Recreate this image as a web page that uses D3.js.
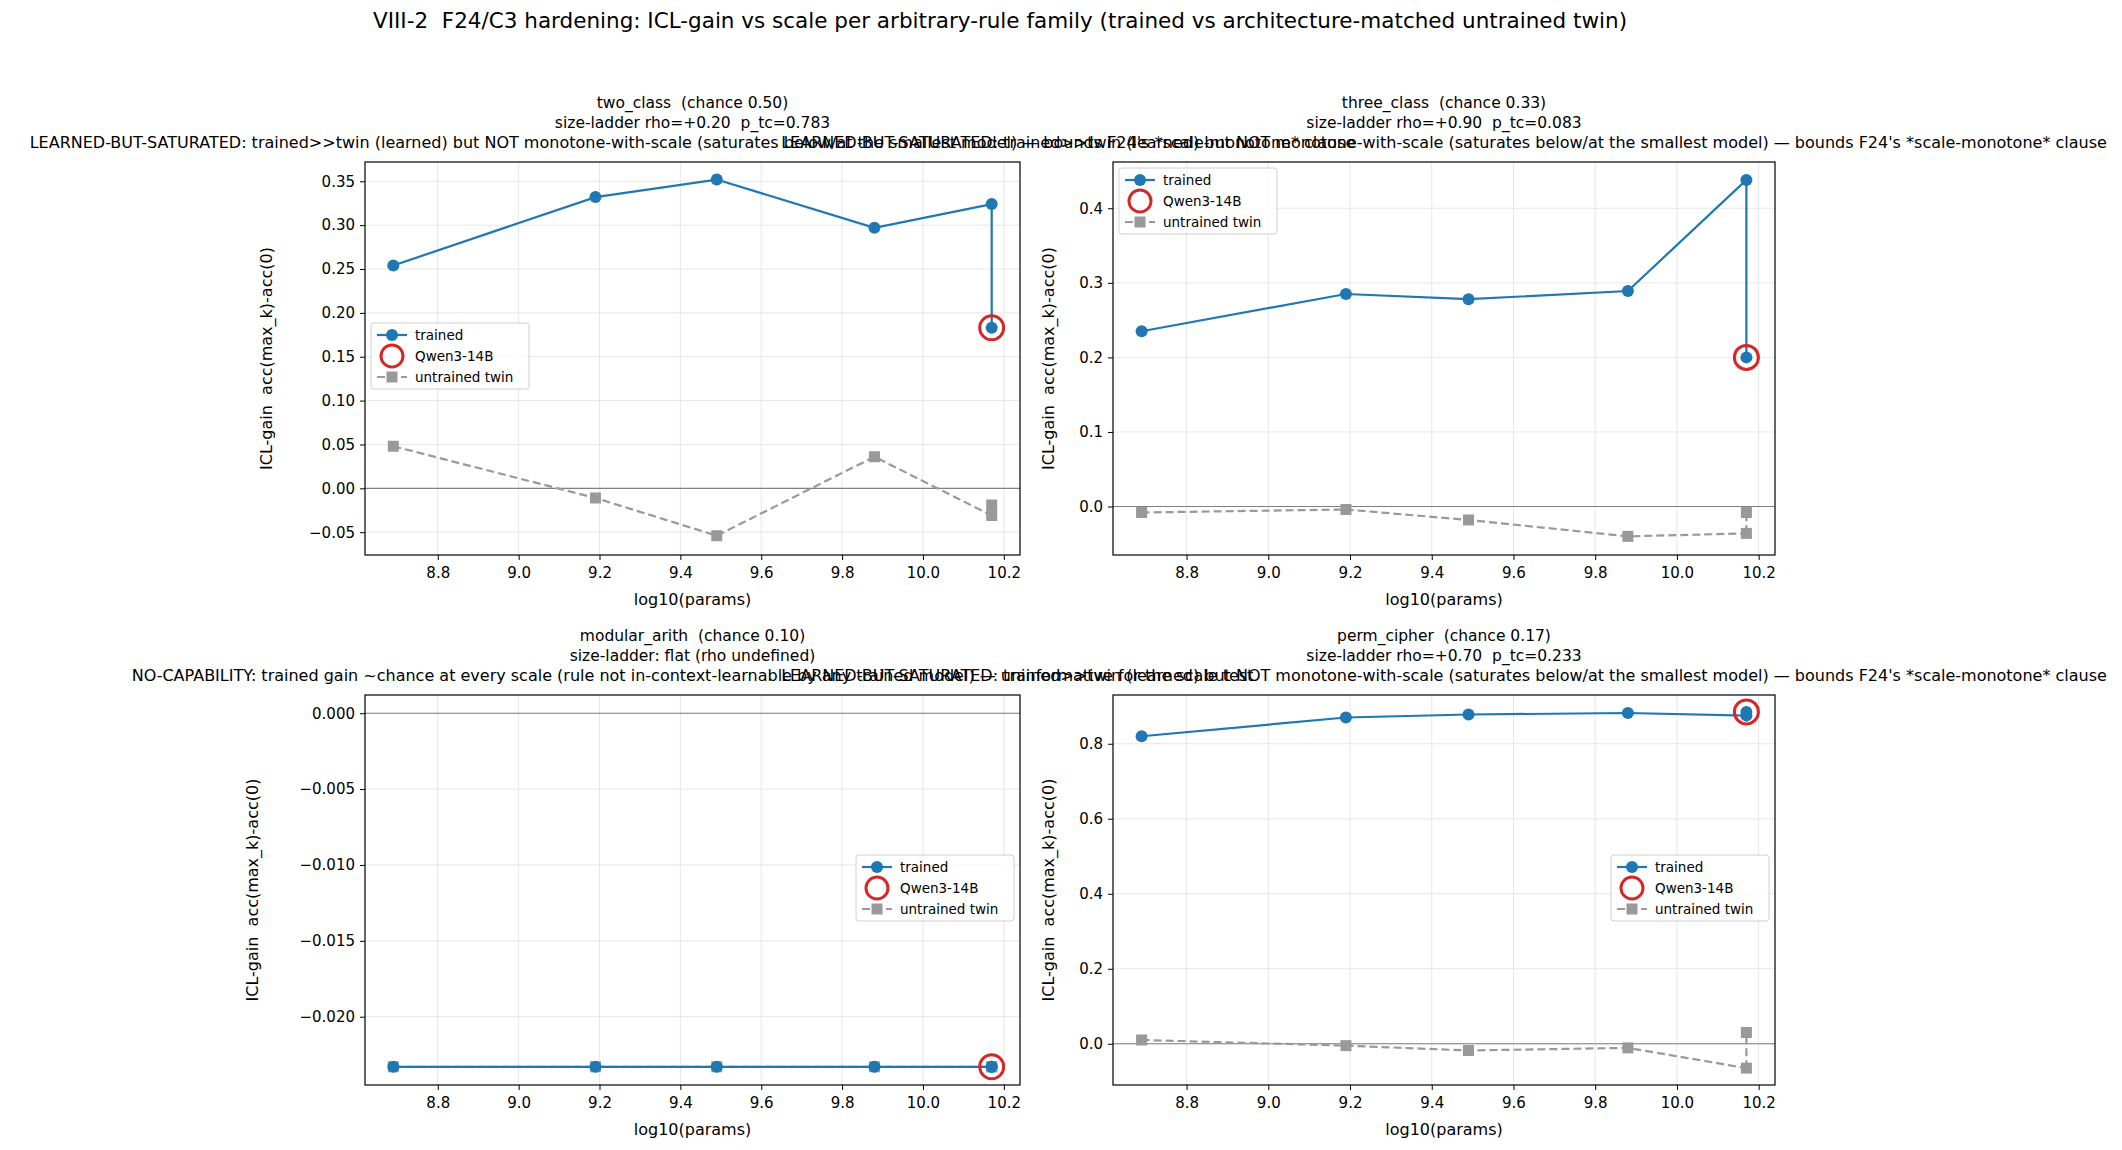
<!DOCTYPE html>
<html><head><meta charset="utf-8">
<script src="https://cdn.jsdelivr.net/npm/d3@7"></script>
<style>body{margin:0;background:#fff}text{font-family:"DejaVu Sans",sans-serif;white-space:pre}</style>
</head><body><svg id="c" width="2122" height="1150"></svg>
<script>
const logParams = [8.69, 9.19, 9.49, 9.88, 10.17];
const qwenX = 10.17;
const xTicks = [8.8, 9.0, 9.2, 9.4, 9.6, 9.8, 10.0, 10.2];

const satText = "LEARNED-BUT-SATURATED: trained>>twin (learned) but NOT monotone-with-scale (saturates below/at the smallest model) \u2014 bounds F24's *scale-monotone* clause";
const noCapText = "NO-CAPABILITY: trained gain ~chance at every scale (rule not in-context-learnable by any trained model) \u2014 uninformative for the scale test";

const panelNames = ["two_class  (chance 0.50)", "three_class  (chance 0.33)", "modular_arith  (chance 0.10)", "perm_cipher  (chance 0.17)"];
const panelRho = ["size-ladder rho=+0.20  p_tc=0.783", "size-ladder rho=+0.90  p_tc=0.083", "size-ladder: flat (rho undefined)", "size-ladder rho=+0.70  p_tc=0.233"];
const panelVerdict = [satText, satText, noCapText, satText];

const trained = [
  [0.254, 0.332, 0.352, 0.297, 0.324],
  [0.235, 0.285, 0.278, 0.289, 0.438],
  [-0.0233, -0.0233, -0.0233, -0.0233, -0.0233],
  [0.820, 0.870, 0.878, 0.882, 0.875]
];
const qwenGain = [0.183, 0.200, -0.0233, 0.885];
const twin = [
  [0.048, -0.011, -0.054, 0.036, -0.031],
  [-0.008, -0.004, -0.018, -0.040, -0.036],
  [-0.0233, -0.0233, -0.0233, -0.0233, -0.0233],
  [0.010, -0.005, -0.018, -0.011, -0.065]
];
const qwenTwin = [-0.019, -0.008, -0.0233, 0.030];
const yDomains = [[-0.076, 0.372], [-0.065, 0.462], [-0.0245, 0.0012], [-0.11, 0.93]];
const yTicks = [
  [-0.05, 0, 0.05, 0.10, 0.15, 0.20, 0.25, 0.30, 0.35],
  [0, 0.1, 0.2, 0.3, 0.4],
  [-0.020, -0.015, -0.010, -0.005, 0.000],
  [0, 0.2, 0.4, 0.6, 0.8]
];
const yFormats = [".2f", ".1f", ".3f", ".1f"];
const legendPos = ["ul", "ul", "r", "r"];
const yLabelOffset = [-93, -59, -107, -59];

const blue = "#1f77b4", grey = "#999999", red = "#d62728";
const svg = d3.select("#c");

svg.append("text").attr("x", 1000).attr("y", 28).attr("text-anchor", "middle")
  .attr("font-size", 21.5)
  .text("VIII-2  F24/C3 hardening: ICL-gain vs scale per arbitrary-rule family (trained vs architecture-matched untrained twin)");

const boxes = [
  {x: 365, y: 162, w: 655, h: 393},
  {x: 1113, y: 162, w: 662, h: 393},
  {x: 365, y: 695, w: 655, h: 390},
  {x: 1113, y: 695, w: 662, h: 390}
];

boxes.forEach((b, i) => {
  const g = svg.append("g").attr("transform", `translate(${b.x},${b.y})`);
  const x = d3.scaleLinear().domain([8.62, 10.24]).range([0, b.w]);
  const y = d3.scaleLinear().domain(yDomains[i]).range([b.h, 0]);

  g.selectAll(".gx").data(xTicks).enter().append("line")
    .attr("x1", d => x(d)).attr("x2", d => x(d)).attr("y1", 0).attr("y2", b.h)
    .attr("stroke", "#e6e6e6").attr("stroke-width", 1);
  g.selectAll(".gy").data(yTicks[i]).enter().append("line")
    .attr("y1", d => y(d)).attr("y2", d => y(d)).attr("x1", 0).attr("x2", b.w)
    .attr("stroke", "#e6e6e6").attr("stroke-width", 1);
  g.append("line").attr("x1", 0).attr("x2", b.w).attr("y1", y(0)).attr("y2", y(0))
    .attr("stroke", "#808080").attr("stroke-width", 1.1);

  const xa = g.append("g").attr("transform", `translate(0,${b.h})`)
    .call(d3.axisBottom(x).tickValues(xTicks).tickFormat(d3.format(".1f")).tickSizeOuter(0).tickSize(5).tickPadding(7));
  const ya = g.append("g")
    .call(d3.axisLeft(y).tickValues(yTicks[i]).tickFormat(d => d3.format(yFormats[i])(d).replace("-", "\u2212")).tickSizeOuter(0).tickSize(5).tickPadding(5));
  [xa, ya].forEach(a => { a.selectAll("text").attr("font-size", 15).attr("fill", "#000"); a.select(".domain").remove(); });
  g.append("rect").attr("width", b.w).attr("height", b.h).attr("fill", "none").attr("stroke", "#000").attr("stroke-width", 1.2);

  g.append("text").attr("x", b.w / 2).attr("y", b.h + 50).attr("text-anchor", "middle").attr("font-size", 16).text("log10(params)");
  g.append("text").attr("transform", `translate(${yLabelOffset[i]},${b.h / 2}) rotate(-90)`)
    .attr("text-anchor", "middle").attr("font-size", 16).text("ICL-gain  acc(max_k)-acc(0)");

  [panelNames[i], panelRho[i], panelVerdict[i]].forEach((t, k) => {
    g.append("text").attr("x", b.w / 2).attr("y", -54 + k * 20).attr("text-anchor", "middle")
      .attr("font-size", k === 2 ? 16 : 15.5).text(t);
  });

  const line = d3.line().x(d => x(d[0])).y(d => y(d[1]));
  const tw = logParams.map((v, j) => [v, twin[i][j]]);
  const tr = logParams.map((v, j) => [v, trained[i][j]]);

  g.append("path").attr("d", line(tw)).attr("fill", "none").attr("stroke", grey).attr("stroke-width", 2.2).attr("stroke-dasharray", "8,4");
  g.append("path").attr("d", line([[qwenX, twin[i][4]], [qwenX, qwenTwin[i]]])).attr("fill", "none").attr("stroke", grey).attr("stroke-width", 2.2).attr("stroke-dasharray", "8,4");
  g.selectAll(".sq").data(tw.concat([[qwenX, qwenTwin[i]]])).enter().append("rect")
    .attr("x", d => x(d[0]) - 5.5).attr("y", d => y(d[1]) - 5.5).attr("width", 11).attr("height", 11).attr("fill", grey);

  g.append("path").attr("d", line(tr.concat([[qwenX, qwenGain[i]]]))).attr("fill", "none").attr("stroke", blue).attr("stroke-width", 2.2);
  g.selectAll(".dot").data(tr.concat([[qwenX, qwenGain[i]]])).enter().append("circle")
    .attr("cx", d => x(d[0])).attr("cy", d => y(d[1])).attr("r", 6).attr("fill", blue);
  g.append("circle").attr("cx", x(qwenX)).attr("cy", y(qwenGain[i])).attr("r", 12)
    .attr("fill", "none").attr("stroke", red).attr("stroke-width", 3);

  const lw = 158, lh = 66;
  const lx = legendPos[i] === "ul" ? 6 : b.w - lw - 6;
  const ly = legendPos[i] === "ul" ? (i === 0 ? 161 : 6) : 160;
  const lg = g.append("g").attr("transform", `translate(${lx},${ly})`);
  lg.append("rect").attr("width", lw).attr("height", lh).attr("rx", 3).attr("fill", "#fff").attr("fill-opacity", 0.8).attr("stroke", "#d0d0d0");
  ["trained", "Qwen3-14B", "untrained twin"].forEach((t, k) => {
    const cy = 12 + k * 21;
    if (k === 0) {
      lg.append("line").attr("x1", 6).attr("x2", 36).attr("y1", cy).attr("y2", cy).attr("stroke", blue).attr("stroke-width", 2.2);
      lg.append("circle").attr("cx", 21).attr("cy", cy).attr("r", 6).attr("fill", blue);
    } else if (k === 1) {
      lg.append("circle").attr("cx", 21).attr("cy", cy).attr("r", 11).attr("fill", "none").attr("stroke", red).attr("stroke-width", 3);
    } else {
      lg.append("line").attr("x1", 6).attr("x2", 36).attr("y1", cy).attr("y2", cy).attr("stroke", grey).attr("stroke-width", 2.2).attr("stroke-dasharray", "8,4");
      lg.append("rect").attr("x", 15.5).attr("y", cy - 5.5).attr("width", 11).attr("height", 11).attr("fill", grey);
    }
    lg.append("text").attr("x", 44).attr("y", cy + 4.5).attr("font-size", 13.5).text(t);
  });
});
</script></body></html>
